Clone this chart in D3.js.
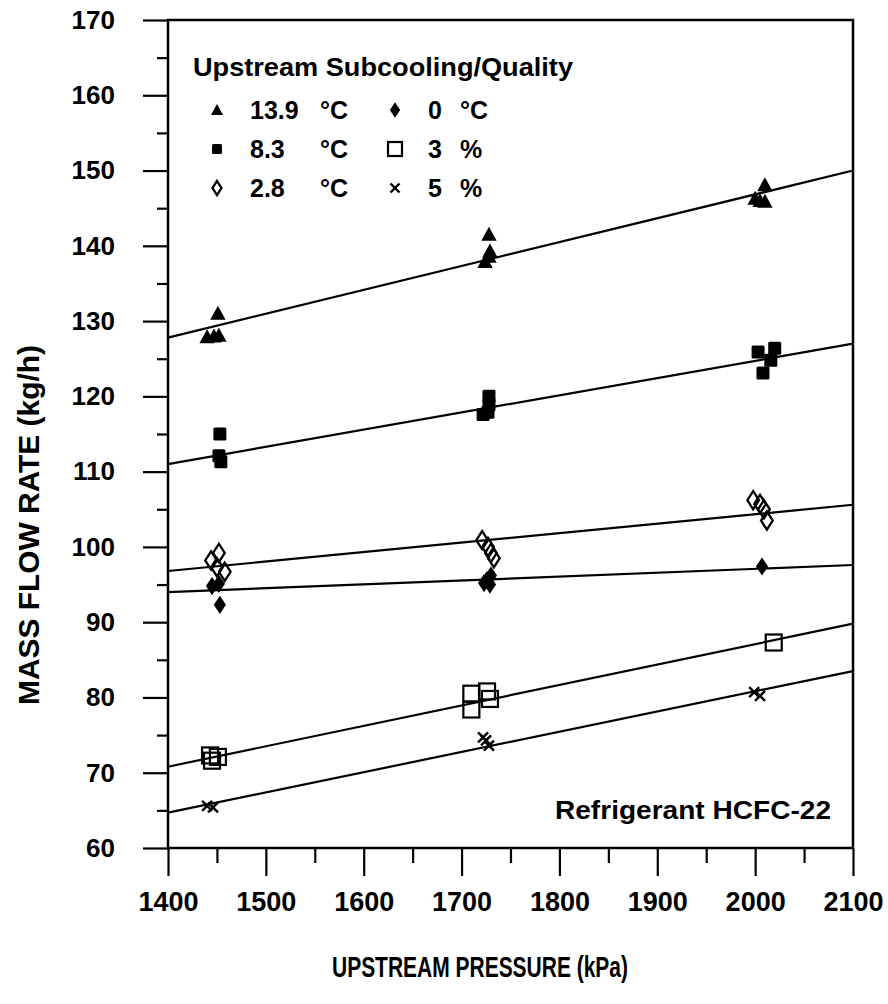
<!DOCTYPE html>
<html>
<head>
<meta charset="utf-8">
<script src="https://cdn.jsdelivr.net/npm/d3@7"></script>
<style>
  html, body { margin: 0; padding: 0; background: #fff; }
  svg { display: block; }
  text { font-family: "Liberation Sans", Arial, Helvetica, sans-serif; font-weight: bold; fill: #000; }
</style>
</head>
<body>
<svg id="chart" width="888" height="1004"></svg>
<script>
// Tick values
const pressureTicks = [1400, 1500, 1600, 1700, 1800, 1900, 2000, 2100];
const pressureMinor = [1450, 1550, 1650, 1750, 1850, 1950, 2050];
const flowTicks = [60, 70, 80, 90, 100, 110, 120, 130, 140, 150, 160, 170];
const flowMinor = [65, 75, 85, 95, 105, 115, 125, 135, 145, 155, 165];

// Measured points: [upstream pressure kPa, mass flow kg/h]
const sub13_9 = [[1440, 127.9], [1447, 128.0], [1452, 128.1], [1451, 131.0],
                 [1724, 137.9], [1728, 138.6], [1729, 139.3], [1728, 141.5],
                 [2000, 146.3], [2005, 146.0], [2010, 145.9], [2010, 148.1]];
const sub8_3 = [[1453, 115.0], [1452, 112.1], [1454, 111.3],
                [1728, 120.0], [1728, 118.9], [1727, 117.9], [1722, 117.6],
                [2003, 125.9], [2020, 126.4], [2016, 124.8], [2008, 123.1]];
const sub2_8 = [[1444, 98.2], [1452, 99.2], [1450, 97.3], [1458, 96.7],
                [1721, 100.9], [1727, 100.0], [1730, 99.2], [1733, 98.5],
                [1998, 106.2], [2005, 105.7], [2009, 105.0], [2012, 103.5]];
const sub0 = [[1445, 94.8], [1452, 95.1], [1453, 92.3],
              [1723, 95.2], [1730, 96.2], [1726, 95.6], [1729, 95.0],
              [2007, 97.4]];
const qual3 = [[1443, 72.3], [1451, 72.1], [1445, 71.6],
               [1710, 80.5], [1726, 80.8], [1729, 79.8], [1710, 78.4],
               [2019, 87.3]];
const qual5 = [[1440, 65.6], [1446, 65.4],
               [1722, 74.7], [1725, 74.3], [1728, 73.6],
               [1999, 80.7], [2005, 80.2]];

// Linear fits: flow at 1400 kPa and at 2100 kPa
const fitPressure = [1400, 2100];
const fitStart = [127.8, 111.0, 96.8, 94.0, 70.8, 64.7];
const fitEnd = [150.0, 127.0, 105.6, 97.6, 89.8, 83.5];

// Legend entries
const legendValues = ["13.9", "8.3", "2.8", "0", "3", "5"];
const legendUnits = ["°C", "°C", "°C", "°C", "%", "%"];

const svg = d3.select("#chart");
svg.append("rect").attr("width", 888).attr("height", 1004).attr("fill", "#fff");

const x = d3.scaleLinear().domain([1400, 2100]).range([168, 853]);
const y = d3.scaleLinear().domain([60, 170]).range([848, 20]);

// Marker shapes
const shapes = {
  triangle: (g, s) => g.append("path").attr("d", `M0,${-s * 0.55}L${s * 0.55},${s * 0.45}L${-s * 0.55},${s * 0.45}Z`).attr("fill", "#000"),
  square: (g, s) => g.append("rect").attr("x", -s / 2).attr("y", -s / 2).attr("width", s).attr("height", s).attr("rx", 1.5).attr("fill", "#000"),
  diamondOpen: (g, s) => g.append("path").attr("d", `M0,${-s * 0.7}L${s * 0.45},0L0,${s * 0.7}L${-s * 0.45},0Z`).attr("fill", "none").attr("stroke", "#000").attr("stroke-width", 2.3),
  diamond: (g, s) => g.append("path").attr("d", `M0,${-s * 0.7}L${s * 0.47},0L0,${s * 0.7}L${-s * 0.47},0Z`).attr("fill", "#000"),
  squareOpen: (g, s) => g.append("rect").attr("x", -s / 2).attr("y", -s / 2).attr("width", s).attr("height", s).attr("fill", "none").attr("stroke", "#000").attr("stroke-width", 2.2),
  cross: (g, s) => g.append("path").attr("d", `M${-s / 2},${-s / 2}L${s / 2},${s / 2}M${s / 2},${-s / 2}L${-s / 2},${s / 2}`).attr("fill", "none").attr("stroke", "#000").attr("stroke-width", 2.4)
};

const series = [
  { data: sub13_9, shape: "triangle", size: 14, legendSize: 11 },
  { data: sub8_3, shape: "square", size: 13, legendSize: 10 },
  { data: sub2_8, shape: "diamondOpen", size: 13, legendSize: 10 },
  { data: sub0, shape: "diamond", size: 13, legendSize: 11 },
  { data: qual3, shape: "squareOpen", size: 16, legendSize: 14 },
  { data: qual5, shape: "cross", size: 10, legendSize: 9 }
];

// Axes
const yMajor = d3.axisLeft(y).tickValues(flowTicks).tickSize(25).tickPadding(28).tickFormat(d3.format("d"));
const yMinor = d3.axisLeft(y).tickValues(flowMinor).tickSize(11).tickFormat("");
const xMajor = d3.axisBottom(x).tickValues(pressureTicks).tickSize(28).tickPadding(16).tickFormat(d3.format("d"));
const xMinor = d3.axisBottom(x).tickValues(pressureMinor).tickSize(15).tickFormat("");

function styleAxis(g, size) {
  g.select(".domain").remove();
  g.selectAll(".tick line").attr("stroke", "#000").attr("stroke-width", 2.2);
  g.selectAll(".tick text").attr("font-size", size).attr("font-family", '"Liberation Sans", Arial, sans-serif').attr("font-weight", "bold").attr("fill", "#000");
}
svg.append("g").attr("transform", "translate(168,0)").call(yMajor).call(styleAxis, 26);
svg.append("g").attr("transform", "translate(168,0)").call(yMinor).call(styleAxis, 26);
svg.append("g").attr("transform", "translate(0,848)").call(xMajor).call(styleAxis, 27);
svg.append("g").attr("transform", "translate(0,848)").call(xMinor).call(styleAxis, 27);

// Plot frame
svg.append("rect")
  .attr("x", x(1400)).attr("y", y(170))
  .attr("width", x(2100) - x(1400)).attr("height", y(60) - y(170))
  .attr("fill", "none").attr("stroke", "#000").attr("stroke-width", 2.5);

// Fit lines
const line = d3.line().x(d => x(d[0])).y(d => y(d[1]));
fitStart.forEach((v, i) => {
  svg.append("path")
    .attr("d", line([[fitPressure[0], v], [fitPressure[1], fitEnd[i]]]))
    .attr("fill", "none").attr("stroke", "#000").attr("stroke-width", 2.2);
});

// Data points
series.forEach(s => {
  const g = svg.append("g");
  s.data.forEach(d => {
    const m = g.append("g").attr("transform", `translate(${x(d[0])},${y(d[1])})`);
    shapes[s.shape](m, s.size);
  });
});

// Legend
svg.append("text").attr("x", 193).attr("y", 76).attr("font-size", 25)
  .attr("textLength", 380).attr("lengthAdjust", "spacingAndGlyphs")
  .text("Upstream Subcooling/Quality");

const legendCols = [{ sx: 217, vx: 250, ux: 320 }, { sx: 395, vx: 428, ux: 460 }];
const legendRows = [110, 149, 188];
series.forEach((s, i) => {
  const col = legendCols[Math.floor(i / 3)];
  const ry = legendRows[i % 3];
  const m = svg.append("g").attr("transform", `translate(${col.sx},${ry})`);
  shapes[s.shape](m, s.legendSize);
  svg.append("text").attr("x", col.vx).attr("y", ry + 9).attr("font-size", 25).text(legendValues[i]);
  svg.append("text").attr("x", col.ux).attr("y", ry + 9).attr("font-size", 25).text(legendUnits[i]);
});

svg.append("text").attr("x", 555).attr("y", 819).attr("font-size", 25)
  .attr("textLength", 276).attr("lengthAdjust", "spacingAndGlyphs")
  .text("Refrigerant HCFC-22");

// Axis titles
svg.append("text").attr("x", 480).attr("y", 977).attr("font-size", 29)
  .attr("text-anchor", "middle")
  .attr("textLength", 296).attr("lengthAdjust", "spacingAndGlyphs")
  .text("UPSTREAM PRESSURE (kPa)");

svg.append("text")
  .attr("transform", "translate(39,525) rotate(-90)")
  .attr("font-size", 29).attr("text-anchor", "middle")
  .attr("textLength", 360).attr("lengthAdjust", "spacingAndGlyphs")
  .text("MASS FLOW RATE (kg/h)");
</script>
</body>
</html>
